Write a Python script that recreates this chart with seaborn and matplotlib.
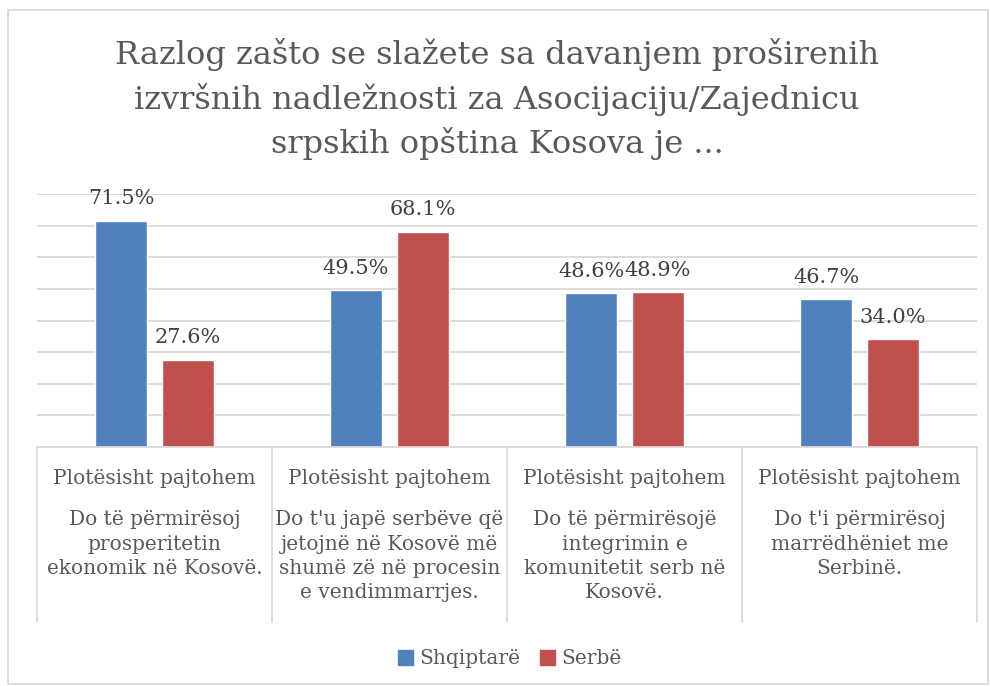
import pandas as pd
import matplotlib.pyplot as plt
import seaborn as sns
from matplotlib.patches import Rectangle

# data
nivo = ["Plotësisht pajtohem"] * 4
arsyet = [
    "Do të përmirësoj\nprosperitetin\nekonomik në Kosovë.",
    "Do t'u japë serbëve që\njetojnë në Kosovë më\nshumë zë në procesin\ne vendimmarrjes.",
    "Do të përmirësojë\nintegrimin e\nkomunitetit serb në\nKosovë.",
    "Do t'i përmirësoj\nmarrëdhëniet me\nSerbinë.",
]
grupet = ["Shqiptarë", "Serbë"]
shqiptare = [71.5, 49.5, 48.6, 46.7]
serbe = [27.6, 68.1, 48.9, 34.0]

title = ("Razlog zašto se slažete sa davanjem proširenih\n"
         "izvršnih nadležnosti za Asocijaciju/Zajednicu\n"
         "srpskih opština Kosova je ...")

df = pd.DataFrame({
    "kat": list(range(4)) * 2,
    "vlera": shqiptare + serbe,
    "grupi": [grupet[0]] * 4 + [grupet[1]] * 4,
})

sns.set_style("white")
plt.rcParams["font.family"] = ["DejaVu Serif"]

gray = "#595959"
gridc = "#D9D9D9"

fig = plt.figure(figsize=(9.9, 6.86), dpi=100)
ax = fig.add_axes([37 / 990, 1 - 447 / 686, 940 / 990, 253 / 686])

sns.barplot(
    data=df, x="kat", y="vlera", hue="grupi",
    palette=["#4F81BD", "#C0504D"], width=0.57, gap=0.225,
    ax=ax, legend=False, saturation=1,
)

ax.set_ylim(0, 80)
ax.set_xlim(-0.5, 3.5)
ax.set_yticks(range(0, 81, 10))
ax.set_yticklabels([])
ax.set_xticks([])
ax.yaxis.grid(True, color=gridc, linewidth=1.3)
ax.set_axisbelow(True)
ax.tick_params(left=False, bottom=False)
for s in ax.spines.values():
    s.set_visible(False)
ax.set_xlabel("")
ax.set_ylabel("")

for cont in ax.containers:
    ax.bar_label(cont, labels=[f"{v:.1f}%" for v in cont.datavalues],
                 padding=9, fontsize=15, color="#404040")

# category table below the axis
tr = ax.get_xaxis_transform()
ax.plot([-0.5, 3.5], [0, 0], color=gridc, lw=1.3, transform=tr, clip_on=False)
for xb in [-0.5, 0.5, 1.5, 2.5, 3.5]:
    ax.plot([xb, xb], [0, -0.692], color=gridc, lw=1.3, transform=tr, clip_on=False)
for i in range(4):
    ax.text(i, -0.125, nivo[i], transform=tr, ha="center", va="center",
            fontsize=14.5, color=gray)
    ax.text(i, -0.25, arsyet[i], transform=tr, ha="center", va="top",
            fontsize=14.5, color=gray, linespacing=1.35)

fig.text(0.502, 1 - 99 / 686, title, ha="center", va="center",
         fontsize=23, color=gray, linespacing=1.45)

handles = [Rectangle((0, 0), 1, 1, color=c) for c in ["#4F81BD", "#C0504D"]]
fig.legend(handles, grupet, loc="center", bbox_to_anchor=(0.515, 1 - 659 / 686),
           ncol=2, frameon=False, fontsize=14.5, handlelength=0.75, handleheight=0.75,
           handletextpad=0.3, columnspacing=1.0, labelcolor=gray)

fig.add_artist(Rectangle((8 / 990, 2 / 686), 1 - 10 / 990, 1 - 12 / 686,
                         transform=fig.transFigure, fill=False,
                         edgecolor=gridc, lw=1.3))

plt.savefig("out.png", dpi=100)
